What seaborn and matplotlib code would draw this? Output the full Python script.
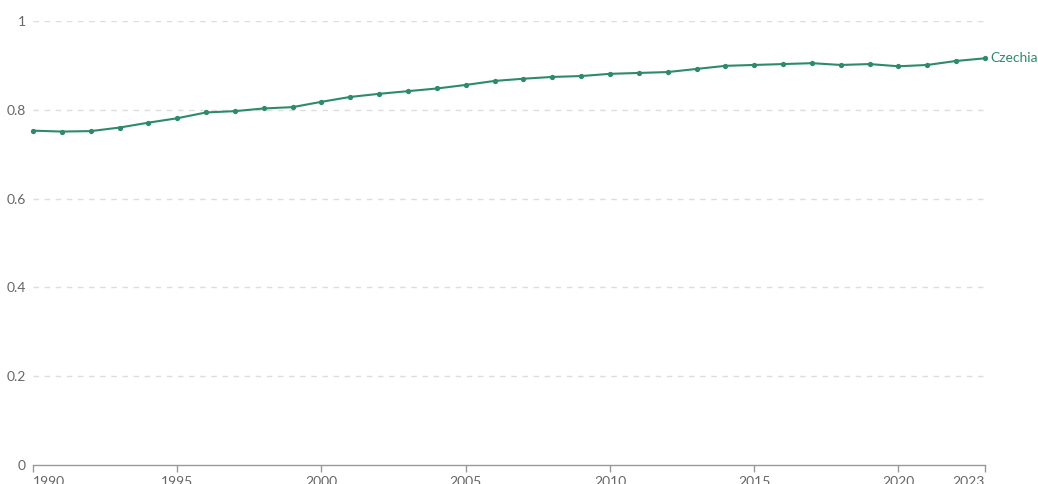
import matplotlib
matplotlib.use("Agg")
import matplotlib.pyplot as plt
import seaborn as sns
import pandas as pd

years = list(range(1990, 2024))
values = [0.753, 0.751, 0.752, 0.760, 0.771, 0.781, 0.794, 0.797, 0.803, 0.806,
          0.818, 0.829, 0.836, 0.842, 0.848, 0.856, 0.865, 0.870, 0.874, 0.876,
          0.881, 0.883, 0.885, 0.892, 0.899, 0.901, 0.903, 0.905, 0.901, 0.903,
          0.898, 0.901, 0.910, 0.916]
country = "Czechia"
y_ticks = [0, 0.2, 0.4, 0.6, 0.8, 1]
y_tick_labels = ["0", "0.2", "0.4", "0.6", "0.8", "1"]
x_ticks = [1990, 1995, 2000, 2005, 2010, 2015, 2020, 2023]

df = pd.DataFrame({"year": years, "value": values})

sns.set_theme(style="white")
plt.rcParams['font.family'] = ['Lato', 'DejaVu Sans']

W, H = 1038, 484
fig = plt.figure(figsize=(W / 100, H / 100), dpi=100)
ax = fig.add_axes([33 / W, 1 - 465 / H, (985 - 33) / W, (465 - 21) / H])

color = "#2d8a6b"
sns.lineplot(data=df, x="year", y="value", ax=ax, color=color, linewidth=1.5,
             marker="o", markersize=3.8, markeredgewidth=0, clip_on=False)

ax.set_xlim(1990, 2023)
ax.set_ylim(0, 1)
ax.set_xlabel("")
ax.set_ylabel("")

for yv in y_ticks[1:]:
    ax.axhline(yv, color="#dddddd", linewidth=1, linestyle=(0, (4, 4)), zorder=0)

ax.set_yticks(y_ticks)
ax.set_yticklabels(y_tick_labels)
ax.set_xticks(x_ticks)
ax.set_xticklabels([str(x) for x in x_ticks])

for s in ["top", "right", "left"]:
    ax.spines[s].set_visible(False)
ax.spines["bottom"].set_color("#999999")
ax.spines["bottom"].set_linewidth(1)

ax.tick_params(axis="y", length=0, pad=5, labelsize=10, labelcolor="#666666")
ax.tick_params(axis="x", length=5, width=1, color="#999999", pad=3,
               labelsize=10, labelcolor="#666666", direction="out", bottom=True)

xlabels = ax.get_xticklabels()
xlabels[0].set_horizontalalignment("left")
xlabels[-1].set_horizontalalignment("right")
for lbl in xlabels:
    pass

ax.annotate(country, xy=(years[-1], values[-1]), xytext=(4, 0),
            textcoords="offset points", ha="left", va="center",
            color=color, fontsize=10)

fig.savefig("out.png", dpi=100)
